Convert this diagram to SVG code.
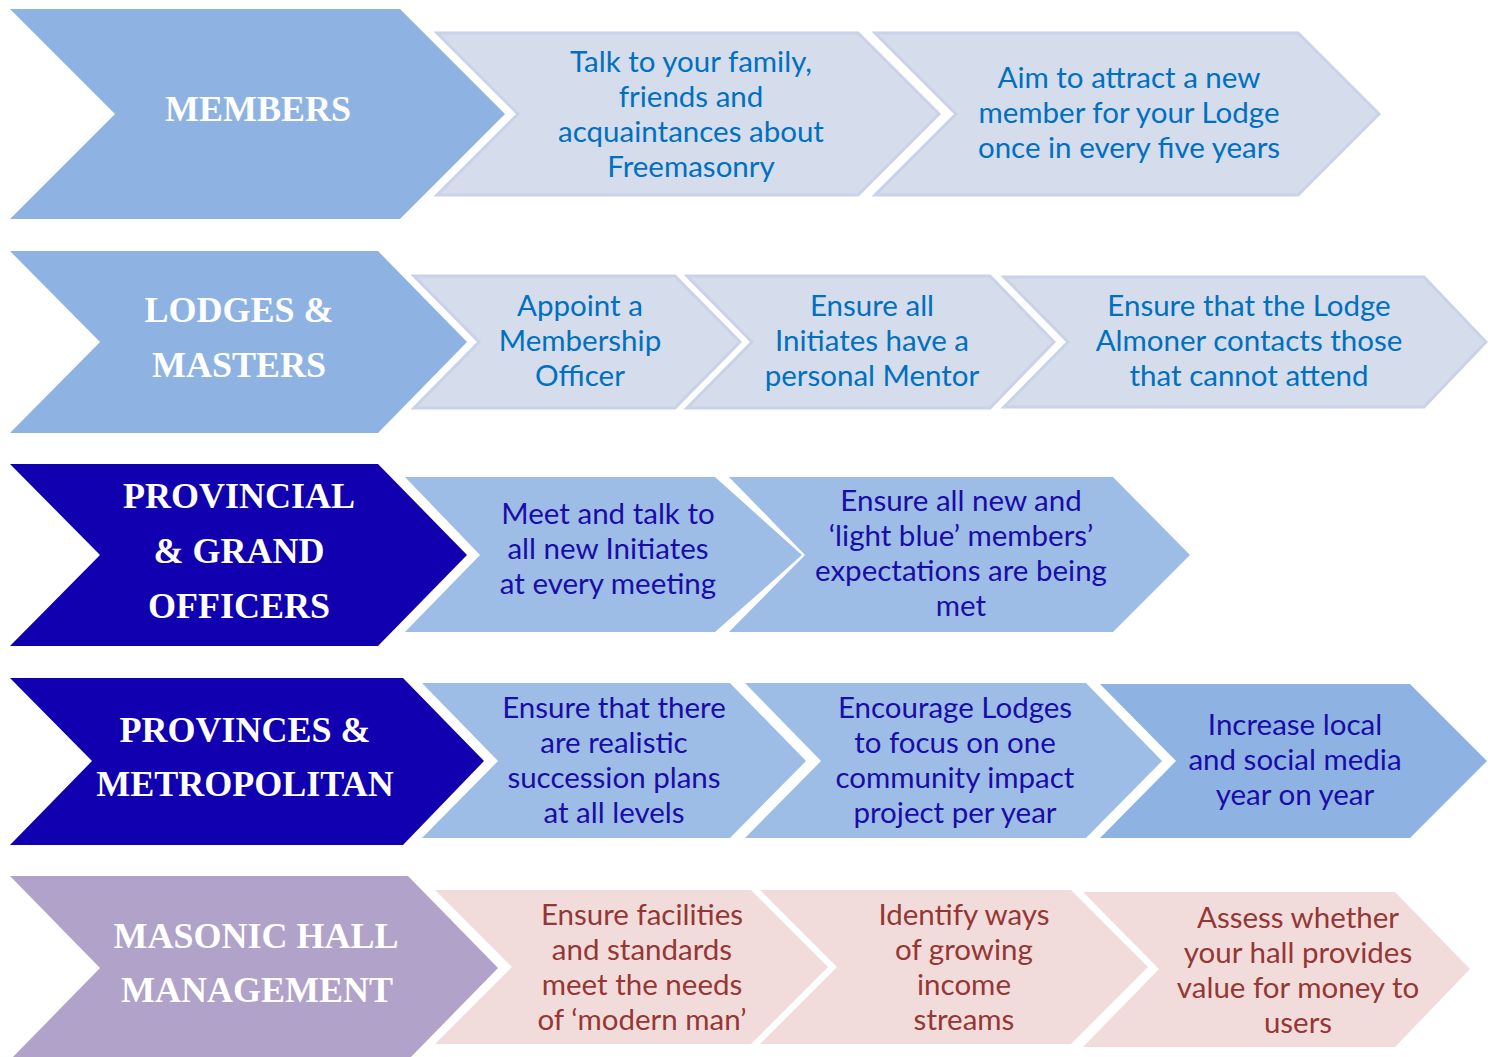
<svg xmlns="http://www.w3.org/2000/svg" width="1488" height="1057" viewBox="0 0 1488 1057">
<style>
.hdr{font-family:"Liberation Serif","Times New Roman",serif;font-weight:bold;font-size:36px;fill:#ffffff;text-anchor:middle}
.txt{font-family:Lato,"Liberation Sans",sans-serif;font-size:29.5px;text-anchor:middle}
.c1{fill:#0070C0}
.c2{fill:#1A0CA8}
.c3{fill:#953735}
.pale{fill:#D5DCEB;stroke:#C9D2E6;stroke-width:3;stroke-linejoin:miter}
.mid{fill:#9DBDE6}
.blue{fill:#8EB3E2}
.dark{fill:#1100B0}
.lav{fill:#B0A2C8}
.pink{fill:#F2DCDB}
</style>
<rect width="1488" height="1057" fill="#ffffff"/>
<g id="connectors"/>

<!-- Row 1 -->
<g id="members">
<polygon class="blue" points="10,9 400,9 505,114 400,219 10,219 115,114"/>
<text class="hdr" x="258" y="121">MEMBERS</text>
</g>
<g id="members-1">
<polygon class="pale" points="437,33 858,33 939,114 858,195 437,195 518,114"/>
<text class="txt c1" x="691"><tspan x="691" y="72">Talk to your family,</tspan><tspan x="691" y="107">friends and</tspan><tspan x="691" y="142">acquaintances about</tspan><tspan x="691" y="177">Freemasonry</tspan></text>
</g>
<g id="members-2">
<polygon class="pale" points="875,33 1298,33 1379,114 1298,195 875,195 956,114"/>
<text class="txt c1" x="1129"><tspan x="1129" y="88">Aim to attract a new</tspan><tspan x="1129" y="123">member for your Lodge</tspan><tspan x="1129" y="158">once in every five years</tspan></text>
</g>

<!-- Row 2 -->
<g id="lodges">
<polygon class="blue" points="10,251 378,251 467,342 378,433 10,433 100,342"/>
<text class="hdr"><tspan x="239" y="322">LODGES &amp;</tspan><tspan x="239" y="377">MASTERS</tspan></text>
</g>
<g id="lodges-1">
<polygon class="pale" points="414,276 675,276 740,342 675,408 414,408 479,342"/>
<text class="txt c1"><tspan x="580" y="316">Appoint a</tspan><tspan x="580" y="351">Membership</tspan><tspan x="580" y="386">Officer</tspan></text>
</g>
<g id="lodges-2">
<polygon class="pale" points="687,276 990,276 1054,342 990,408 687,408 752,342"/>
<text class="txt c1"><tspan x="872" y="316">Ensure all</tspan><tspan x="872" y="351">Initiates have a</tspan><tspan x="872" y="386">personal Mentor</tspan></text>
</g>
<g id="lodges-3">
<polygon class="pale" points="1004,277 1424,277 1486,342 1424,407 1004,407 1068,342"/>
<text class="txt c1"><tspan x="1249" y="316">Ensure that the Lodge</tspan><tspan x="1249" y="351">Almoner contacts those</tspan><tspan x="1249" y="386">that cannot attend</tspan></text>
</g>

<!-- Row 3 -->
<g id="provincial">
<polygon class="dark" points="10,464 378,464 467,555 378,646 10,646 100,555"/>
<text class="hdr"><tspan x="239" y="508">PROVINCIAL</tspan><tspan x="239" y="563">&amp; GRAND</tspan><tspan x="239" y="618">OFFICERS</tspan></text>
</g>
<g id="provincial-1">
<polygon class="mid" points="405,477 715,477 802,555 715,632 405,632 480,555"/>
<text class="txt c2"><tspan x="608" y="524">Meet and talk to</tspan><tspan x="608" y="559">all new Initiates</tspan><tspan x="608" y="594">at every meeting</tspan></text>
</g>
<g id="provincial-2">
<polygon class="mid" points="729,477 1113,477 1190,555 1113,632 729,632 805,555"/>
<text class="txt c2"><tspan x="961" y="511">Ensure all new and</tspan><tspan x="961" y="546">‘light blue’ members’</tspan><tspan x="961" y="581">expectations are being</tspan><tspan x="961" y="616">met</tspan></text>
</g>

<!-- Row 4 -->
<g id="provinces">
<polygon class="dark" points="10,678 403,678 484,761 403,845 10,845 92,761"/>
<text class="hdr"><tspan x="245" y="742">PROVINCES &amp;</tspan><tspan x="245" y="796">METROPOLITAN</tspan></text>
</g>
<g id="provinces-1">
<polygon class="mid" points="422,683 730,683 806,761 730,838 422,838 498,761"/>
<text class="txt c2"><tspan x="614" y="718">Ensure that there</tspan><tspan x="614" y="753">are realistic</tspan><tspan x="614" y="788">succession plans</tspan><tspan x="614" y="823">at all levels</tspan></text>
</g>
<g id="provinces-2">
<polygon class="mid" points="745,683 1086,683 1162,761 1086,838 745,838 821,761"/>
<text class="txt c2"><tspan x="955" y="718">Encourage Lodges</tspan><tspan x="955" y="753">to focus on one</tspan><tspan x="955" y="788">community impact</tspan><tspan x="955" y="823">project per year</tspan></text>
</g>
<g id="provinces-3">
<polygon class="blue" points="1100,684 1410,684 1487,761 1410,838 1100,838 1176,761"/>
<text class="txt c2"><tspan x="1295" y="735">Increase local</tspan><tspan x="1295" y="770">and social media</tspan><tspan x="1295" y="805">year on year</tspan></text>
</g>

<!-- Row 5 -->
<g id="hall">
<polygon class="lav" points="10,876 408,876 498,968 408,1060 10,1060 100,968"/>
<text class="hdr"><tspan x="256" y="948">MASONIC HALL</tspan><tspan x="257" y="1002">MANAGEMENT</tspan></text>
</g>
<g id="hall-1">
<polygon class="pink" points="435,890 751,890 828,967 751,1044 435,1044 512,967"/>
<text class="txt c3"><tspan x="642" y="925">Ensure facilities</tspan><tspan x="642" y="960">and standards</tspan><tspan x="642" y="995">meet the needs</tspan><tspan x="642" y="1030">of ‘modern man’</tspan></text>
</g>
<g id="hall-2">
<polygon class="pink" points="760,890 1071,890 1148,967 1071,1044 760,1044 837,967"/>
<text class="txt c3"><tspan x="964" y="925">Identify ways</tspan><tspan x="964" y="960">of growing</tspan><tspan x="964" y="995">income</tspan><tspan x="964" y="1030">streams</tspan></text>
</g>
<g id="hall-3">
<polygon class="pink" points="1083,892 1395,892 1470,969 1395,1047 1083,1047 1159,969"/>
<text class="txt c3"><tspan x="1298" y="928">Assess whether</tspan><tspan x="1298" y="963">your hall provides</tspan><tspan x="1298" y="998">value for money to</tspan><tspan x="1298" y="1033">users</tspan></text>
</g>
</svg>
